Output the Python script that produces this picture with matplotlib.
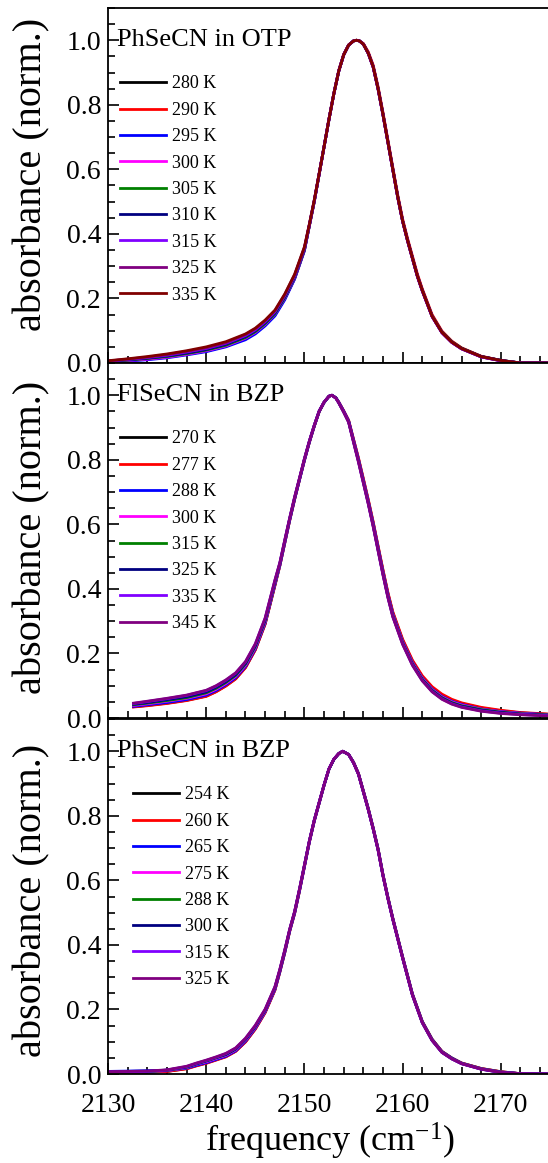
import matplotlib
matplotlib.use("Agg")
import matplotlib.pyplot as plt
from matplotlib.ticker import MultipleLocator, FormatStrFormatter

plt.rcParams['font.family'] = ['Liberation Serif', 'DejaVu Serif']
plt.rcParams['mathtext.fontset'] = 'custom'
plt.rcParams['mathtext.rm'] = 'Liberation Serif'
plt.rcParams['mathtext.it'] = 'Liberation Serif:italic'

# --- panel 1: PhSeCN in OTP ---
freq_otp = [2130, 2132, 2134, 2136, 2138, 2140, 2142, 2144, 2145, 2146, 2147, 2148, 2149, 2150,
            2150.5, 2151, 2151.5, 2152, 2152.5, 2153, 2153.5, 2154, 2154.5, 2155, 2155.3, 2155.6,
            2156, 2156.5, 2157, 2157.5, 2158, 2158.5, 2159, 2159.5, 2160, 2160.5, 2161, 2161.5,
            2162, 2163, 2164, 2165, 2166, 2168, 2170, 2172, 2175]
temps_otp = ['280 K', '290 K', '295 K', '300 K', '305 K', '310 K', '315 K', '325 K', '335 K']
abs_otp = [
    [0.004, 0.008, 0.013, 0.019, 0.028, 0.038, 0.053, 0.076, 0.094, 0.119, 0.150, 0.200, 0.262, 0.350,
     0.425, 0.500, 0.585, 0.670, 0.755, 0.835, 0.905, 0.955, 0.985, 0.998, 1.000, 0.998,
     0.988, 0.960, 0.918, 0.850, 0.770, 0.685, 0.600, 0.515, 0.440, 0.380, 0.325, 0.270,
     0.225, 0.145, 0.095, 0.064, 0.044, 0.019, 0.007, 0.000, 0.000],
    [0.005, 0.008, 0.012, 0.018, 0.027, 0.037, 0.052, 0.075, 0.093, 0.118, 0.149, 0.199, 0.262, 0.350,
     0.425, 0.500, 0.585, 0.671, 0.757, 0.837, 0.907, 0.957, 0.986, 0.998, 1.000, 0.998,
     0.990, 0.964, 0.923, 0.856, 0.776, 0.691, 0.606, 0.521, 0.446, 0.386, 0.331, 0.276,
     0.230, 0.150, 0.099, 0.068, 0.047, 0.021, 0.008, 0.000, 0.000],
    [0.003, 0.006, 0.010, 0.016, 0.025, 0.035, 0.050, 0.072, 0.090, 0.115, 0.146, 0.196, 0.260, 0.348,
     0.425, 0.500, 0.585, 0.670, 0.755, 0.835, 0.905, 0.955, 0.985, 0.998, 1.000, 0.998,
     0.988, 0.960, 0.918, 0.850, 0.770, 0.685, 0.600, 0.515, 0.440, 0.380, 0.325, 0.270,
     0.225, 0.145, 0.095, 0.065, 0.045, 0.020, 0.008, 0.000, 0.000],
    [0.004, 0.008, 0.012, 0.018, 0.027, 0.038, 0.053, 0.077, 0.095, 0.120, 0.152, 0.202, 0.265, 0.352,
     0.426, 0.501, 0.585, 0.670, 0.755, 0.835, 0.905, 0.955, 0.985, 0.998, 1.000, 0.998,
     0.988, 0.960, 0.918, 0.850, 0.770, 0.685, 0.599, 0.514, 0.440, 0.379, 0.324, 0.269,
     0.224, 0.144, 0.094, 0.064, 0.044, 0.019, 0.007, 0.000, 0.000],
    [0.005, 0.009, 0.014, 0.020, 0.029, 0.040, 0.055, 0.079, 0.097, 0.122, 0.153, 0.203, 0.266, 0.352,
     0.426, 0.501, 0.585, 0.670, 0.755, 0.835, 0.905, 0.955, 0.985, 0.998, 1.000, 0.998,
     0.988, 0.960, 0.918, 0.850, 0.770, 0.685, 0.600, 0.515, 0.440, 0.380, 0.325, 0.270,
     0.225, 0.146, 0.096, 0.066, 0.046, 0.020, 0.008, 0.000, 0.000],
    [0.005, 0.010, 0.015, 0.022, 0.031, 0.042, 0.058, 0.082, 0.100, 0.125, 0.156, 0.206, 0.268, 0.354,
     0.427, 0.502, 0.586, 0.670, 0.755, 0.835, 0.905, 0.955, 0.985, 0.998, 1.000, 0.998,
     0.988, 0.960, 0.918, 0.850, 0.770, 0.685, 0.600, 0.515, 0.440, 0.380, 0.325, 0.270,
     0.225, 0.145, 0.095, 0.065, 0.045, 0.020, 0.008, 0.000, 0.000],
    [0.006, 0.011, 0.017, 0.024, 0.034, 0.045, 0.061, 0.085, 0.103, 0.128, 0.159, 0.209, 0.270, 0.356,
     0.428, 0.503, 0.586, 0.670, 0.755, 0.835, 0.905, 0.955, 0.985, 0.998, 1.000, 0.998,
     0.988, 0.959, 0.916, 0.848, 0.768, 0.683, 0.598, 0.513, 0.438, 0.378, 0.323, 0.268,
     0.223, 0.144, 0.094, 0.064, 0.044, 0.019, 0.007, 0.000, 0.000],
    [0.006, 0.012, 0.018, 0.026, 0.036, 0.047, 0.063, 0.088, 0.106, 0.131, 0.162, 0.212, 0.273, 0.358,
     0.429, 0.504, 0.587, 0.670, 0.755, 0.835, 0.905, 0.955, 0.985, 0.998, 1.000, 0.998,
     0.988, 0.959, 0.916, 0.848, 0.768, 0.683, 0.598, 0.513, 0.438, 0.378, 0.323, 0.268,
     0.223, 0.144, 0.094, 0.064, 0.044, 0.019, 0.007, 0.000, 0.000],
    [0.007, 0.013, 0.020, 0.028, 0.038, 0.050, 0.066, 0.090, 0.108, 0.133, 0.164, 0.214, 0.275, 0.360,
     0.430, 0.505, 0.587, 0.670, 0.755, 0.835, 0.905, 0.955, 0.985, 0.998, 1.000, 0.998,
     0.988, 0.960, 0.918, 0.850, 0.770, 0.685, 0.600, 0.515, 0.440, 0.380, 0.325, 0.270,
     0.225, 0.145, 0.095, 0.065, 0.045, 0.020, 0.008, 0.000, 0.000],
]
colors_otp = ['#000000', '#ff0000', '#0000ff', '#ff00ff', '#008000', '#000080', '#8000ff', '#800080', '#800000']

# --- panel 2: FlSeCN in BZP ---
freq_fl = [2132.6, 2134, 2136, 2138, 2140, 2141, 2142, 2143, 2144, 2145, 2146, 2147,
           2147.5, 2148, 2148.5, 2149, 2149.5, 2150, 2150.5, 2151, 2151.5, 2152, 2152.5, 2152.8,
           2153.2, 2153.5, 2154, 2154.5, 2155, 2155.5, 2156, 2156.5, 2157, 2157.5, 2158, 2158.5, 2159,
           2160, 2161, 2162, 2163, 2164, 2165, 2166, 2168, 2170, 2172, 2175]
temps_fl = ['270 K', '277 K', '288 K', '300 K', '315 K', '325 K', '335 K', '345 K']
abs_fl = [
    [0.035, 0.039, 0.046, 0.055, 0.068, 0.082, 0.100, 0.122, 0.157, 0.212, 0.292, 0.412,
     0.473, 0.543, 0.613, 0.678, 0.739, 0.799, 0.854, 0.904, 0.949, 0.978, 0.997, 1.000,
     0.992, 0.978, 0.951, 0.921, 0.862, 0.803, 0.739, 0.674, 0.605, 0.530, 0.456, 0.386, 0.326,
     0.241, 0.176, 0.128, 0.094, 0.071, 0.055, 0.045, 0.031, 0.022, 0.016, 0.011],
    [0.034, 0.038, 0.045, 0.054, 0.067, 0.081, 0.099, 0.121, 0.156, 0.211, 0.291, 0.411,
     0.472, 0.542, 0.612, 0.677, 0.738, 0.798, 0.854, 0.904, 0.949, 0.978, 0.997, 1.000,
     0.992, 0.979, 0.952, 0.923, 0.864, 0.806, 0.742, 0.677, 0.608, 0.533, 0.459, 0.389, 0.329,
     0.244, 0.179, 0.131, 0.097, 0.074, 0.058, 0.047, 0.033, 0.024, 0.017, 0.012],
    [0.036, 0.041, 0.048, 0.057, 0.071, 0.085, 0.103, 0.125, 0.160, 0.215, 0.295, 0.415,
     0.474, 0.544, 0.614, 0.679, 0.739, 0.799, 0.855, 0.905, 0.950, 0.978, 0.997, 1.000,
     0.992, 0.978, 0.950, 0.920, 0.860, 0.801, 0.736, 0.671, 0.602, 0.527, 0.452, 0.382, 0.322,
     0.237, 0.172, 0.124, 0.090, 0.067, 0.052, 0.042, 0.028, 0.020, 0.015, 0.010],
    [0.039, 0.044, 0.052, 0.061, 0.075, 0.089, 0.107, 0.129, 0.164, 0.219, 0.299, 0.419,
     0.475, 0.545, 0.615, 0.680, 0.740, 0.800, 0.855, 0.905, 0.950, 0.978, 0.997, 1.000,
     0.992, 0.978, 0.950, 0.920, 0.860, 0.800, 0.735, 0.670, 0.600, 0.525, 0.450, 0.380, 0.320,
     0.235, 0.170, 0.122, 0.088, 0.065, 0.050, 0.040, 0.027, 0.019, 0.014, 0.009],
    [0.041, 0.046, 0.054, 0.063, 0.078, 0.092, 0.110, 0.132, 0.167, 0.222, 0.302, 0.421,
     0.477, 0.547, 0.616, 0.681, 0.741, 0.801, 0.856, 0.906, 0.950, 0.978, 0.997, 1.000,
     0.992, 0.977, 0.949, 0.919, 0.858, 0.798, 0.733, 0.668, 0.598, 0.523, 0.448, 0.378, 0.318,
     0.233, 0.168, 0.120, 0.086, 0.063, 0.048, 0.038, 0.026, 0.018, 0.013, 0.009],
    [0.043, 0.048, 0.057, 0.066, 0.081, 0.095, 0.113, 0.135, 0.170, 0.225, 0.305, 0.424,
     0.479, 0.549, 0.618, 0.682, 0.742, 0.802, 0.857, 0.906, 0.951, 0.978, 0.997, 1.000,
     0.992, 0.977, 0.949, 0.918, 0.857, 0.796, 0.731, 0.666, 0.596, 0.521, 0.446, 0.376, 0.316,
     0.231, 0.166, 0.118, 0.084, 0.061, 0.046, 0.036, 0.024, 0.017, 0.012, 0.008],
    [0.045, 0.051, 0.060, 0.070, 0.085, 0.099, 0.117, 0.139, 0.174, 0.229, 0.309, 0.427,
     0.481, 0.551, 0.619, 0.684, 0.743, 0.803, 0.858, 0.907, 0.951, 0.979, 0.997, 1.000,
     0.991, 0.976, 0.948, 0.917, 0.855, 0.794, 0.729, 0.664, 0.594, 0.519, 0.444, 0.374, 0.314,
     0.229, 0.164, 0.116, 0.082, 0.059, 0.044, 0.034, 0.022, 0.015, 0.011, 0.007],
    [0.046, 0.052, 0.061, 0.071, 0.086, 0.100, 0.118, 0.140, 0.175, 0.230, 0.310, 0.428,
     0.482, 0.552, 0.620, 0.685, 0.744, 0.804, 0.858, 0.907, 0.951, 0.979, 0.997, 1.000,
     0.991, 0.976, 0.947, 0.916, 0.854, 0.793, 0.728, 0.663, 0.593, 0.518, 0.443, 0.373, 0.313,
     0.228, 0.163, 0.115, 0.081, 0.058, 0.043, 0.033, 0.021, 0.014, 0.010, 0.006],
]
colors_fl = ['#000000', '#ff0000', '#0000ff', '#ff00ff', '#008000', '#000080', '#8000ff', '#800080']

# --- panel 3: PhSeCN in BZP ---
freq_ph = [2130, 2132, 2134, 2136, 2138, 2139, 2140, 2141, 2142, 2143, 2144, 2145, 2146, 2147,
           2147.5, 2148, 2148.5, 2149, 2149.5, 2150, 2150.5, 2151, 2151.5, 2152, 2152.5, 2153, 2153.5,
           2153.9, 2154.5, 2155, 2155.5, 2156, 2156.5, 2157, 2157.5, 2158, 2158.5, 2159, 2159.5, 2160,
           2161, 2162, 2163, 2164, 2165, 2166, 2168, 2170, 2172, 2175]
temps_ph = ['254 K', '260 K', '265 K', '275 K', '288 K', '300 K', '315 K', '325 K']
abs_ph = [
    [0.004, 0.004, 0.005, 0.008, 0.017, 0.026, 0.034, 0.044, 0.054, 0.071, 0.100, 0.140, 0.191, 0.261,
     0.317, 0.377, 0.443, 0.498, 0.568, 0.643, 0.719, 0.784, 0.839, 0.895, 0.945, 0.975, 0.993,
     1.000, 0.990, 0.966, 0.931, 0.877, 0.823, 0.763, 0.698, 0.618, 0.548, 0.483, 0.423, 0.363,
     0.248, 0.163, 0.108, 0.070, 0.050, 0.034, 0.017, 0.007, 0.001, 0.000],
    [0.003, 0.004, 0.006, 0.008, 0.016, 0.025, 0.033, 0.043, 0.053, 0.070, 0.099, 0.139, 0.190, 0.260,
     0.316, 0.376, 0.442, 0.497, 0.567, 0.642, 0.718, 0.783, 0.839, 0.895, 0.945, 0.975, 0.993,
     1.000, 0.990, 0.966, 0.931, 0.877, 0.822, 0.762, 0.697, 0.617, 0.547, 0.482, 0.422, 0.362,
     0.247, 0.162, 0.107, 0.070, 0.049, 0.034, 0.017, 0.007, 0.001, 0.000],
    [0.008, 0.009, 0.010, 0.011, 0.018, 0.027, 0.035, 0.045, 0.055, 0.072, 0.102, 0.142, 0.193, 0.263,
     0.318, 0.378, 0.444, 0.499, 0.569, 0.644, 0.719, 0.784, 0.840, 0.895, 0.945, 0.975, 0.993,
     1.000, 0.990, 0.965, 0.930, 0.876, 0.821, 0.761, 0.696, 0.616, 0.546, 0.481, 0.421, 0.361,
     0.246, 0.161, 0.106, 0.069, 0.049, 0.033, 0.016, 0.006, 0.001, 0.000],
    [0.006, 0.006, 0.007, 0.010, 0.020, 0.030, 0.038, 0.048, 0.058, 0.075, 0.105, 0.145, 0.195, 0.265,
     0.320, 0.380, 0.445, 0.500, 0.570, 0.645, 0.720, 0.785, 0.840, 0.895, 0.945, 0.975, 0.993,
     1.000, 0.990, 0.965, 0.930, 0.875, 0.820, 0.760, 0.695, 0.615, 0.545, 0.480, 0.420, 0.360,
     0.245, 0.160, 0.105, 0.068, 0.048, 0.033, 0.016, 0.006, 0.001, 0.000],
    [0.005, 0.006, 0.007, 0.011, 0.021, 0.031, 0.040, 0.050, 0.060, 0.077, 0.107, 0.147, 0.197, 0.267,
     0.321, 0.381, 0.446, 0.501, 0.571, 0.646, 0.721, 0.786, 0.841, 0.895, 0.945, 0.975, 0.993,
     1.000, 0.990, 0.965, 0.930, 0.875, 0.820, 0.760, 0.695, 0.615, 0.545, 0.480, 0.420, 0.360,
     0.245, 0.160, 0.105, 0.068, 0.048, 0.033, 0.016, 0.006, 0.001, 0.000],
    [0.008, 0.008, 0.009, 0.012, 0.022, 0.032, 0.041, 0.051, 0.061, 0.078, 0.108, 0.148, 0.198, 0.268,
     0.322, 0.382, 0.447, 0.502, 0.572, 0.646, 0.721, 0.786, 0.841, 0.896, 0.945, 0.975, 0.993,
     1.000, 0.990, 0.964, 0.929, 0.874, 0.819, 0.759, 0.694, 0.614, 0.544, 0.479, 0.419, 0.359,
     0.244, 0.159, 0.104, 0.067, 0.047, 0.032, 0.015, 0.005, 0.001, 0.000],
    [0.007, 0.007, 0.008, 0.012, 0.023, 0.033, 0.042, 0.052, 0.063, 0.080, 0.110, 0.150, 0.200, 0.270,
     0.324, 0.384, 0.448, 0.503, 0.573, 0.647, 0.722, 0.787, 0.842, 0.896, 0.946, 0.976, 0.993,
     1.000, 0.990, 0.964, 0.929, 0.874, 0.819, 0.759, 0.694, 0.614, 0.544, 0.479, 0.419, 0.359,
     0.244, 0.159, 0.104, 0.067, 0.047, 0.032, 0.015, 0.005, 0.001, 0.000],
    [0.007, 0.008, 0.009, 0.013, 0.024, 0.034, 0.043, 0.053, 0.064, 0.081, 0.111, 0.151, 0.201, 0.271,
     0.325, 0.385, 0.449, 0.504, 0.574, 0.648, 0.722, 0.787, 0.842, 0.896, 0.946, 0.976, 0.993,
     1.000, 0.990, 0.964, 0.929, 0.874, 0.819, 0.759, 0.694, 0.614, 0.544, 0.479, 0.419, 0.359,
     0.244, 0.159, 0.104, 0.067, 0.047, 0.032, 0.015, 0.005, 0.001, 0.000],
]
colors_ph = ['#000000', '#ff0000', '#0000ff', '#ff00ff', '#008000', '#000080', '#8000ff', '#800080']

panels = [
    ('PhSeCN in OTP', freq_otp, temps_otp, abs_otp, colors_otp, 0.027, 0.53),
    ('FlSeCN in BZP', freq_fl, temps_fl, abs_fl, colors_fl, 0.027, 0.51),
    ('PhSeCN in BZP', freq_ph, temps_ph, abs_ph, colors_ph, 0.057, 0.49),
]

fig = plt.figure(figsize=(5.48, 11.63), dpi=100)
left = 108 / 548
bottoms = [1 - 363 / 1163, 1 - 718 / 1163, 1 - 1074 / 1163]
height = 355 / 1163

for i, (title, freq, temps, data, colors, leg_x, ylab_y) in enumerate(panels):
    ax = fig.add_axes([left, bottoms[i], 1 - left, height])
    for temp, vals, c in zip(temps, data, colors):
        ax.plot(freq, vals, color=c, lw=2.0, label=temp)

    ax.set_xlim(2130, 2174.8)
    ax.set_ylim(0, 1.1)
    ax.xaxis.set_major_locator(MultipleLocator(10))
    ax.xaxis.set_minor_locator(MultipleLocator(2))
    ax.set_yticks([0.0, 0.2, 0.4, 0.6, 0.8, 1.0])
    ax.yaxis.set_minor_locator(MultipleLocator(0.05))
    ax.yaxis.set_major_formatter(FormatStrFormatter('%.1f'))
    ax.tick_params(which='both', direction='in', width=1.2, labelsize=20)
    ax.tick_params(which='major', length=8)
    ax.tick_params(which='minor', length=5)
    ax.tick_params(axis='x', pad=14)
    ax.tick_params(axis='y', pad=5)
    ax.spines['right'].set_visible(False)
    for s in ['left', 'bottom', 'top']:
        ax.spines[s].set_linewidth(1.3)
    if i < 2:
        ax.tick_params(labelbottom=False)

    ax.set_ylabel('absorbance (norm.)', fontsize=29)
    ax.yaxis.set_label_coords(-0.13, ylab_y)

    ax.text(0.02, 1.0, title, transform=ax.get_yaxis_transform(), fontsize=19,
            va='center', ha='left')

    ax.legend(loc='upper left', bbox_to_anchor=(leg_x, 0.81), frameon=False,
              fontsize=13, handlelength=2.55, handletextpad=0.35,
              labelspacing=0.52, borderpad=0, borderaxespad=0)

ax.set_xlabel('frequency (cm$^{-1}$)', fontsize=26)
ax.xaxis.set_label_coords(0.505, -0.133)

fig.savefig('out.png', dpi=100)
